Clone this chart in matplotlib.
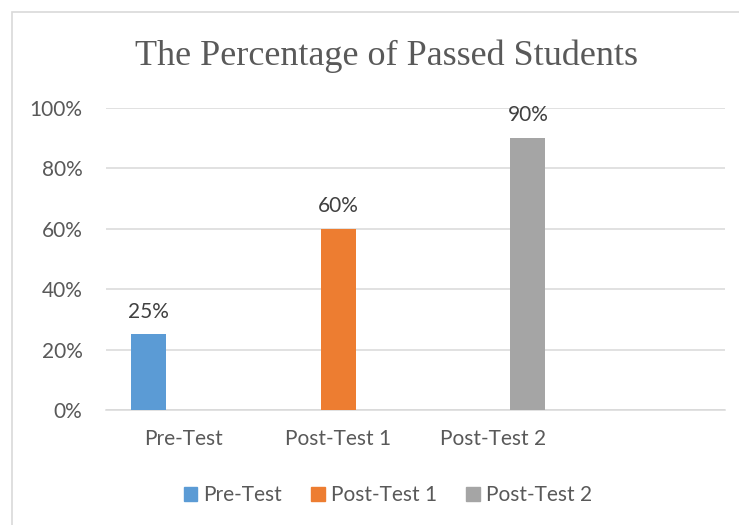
import matplotlib.pyplot as plt
import numpy as np
from matplotlib.patches import Rectangle, Patch

# categories on the x axis (4th slot is empty, as in the original sheet)
categories = ['Pre-Test', 'Post-Test 1', 'Post-Test 2', '']
series_names = ['Pre-Test', 'Post-Test 1', 'Post-Test 2']
pre_test = [25, 0, 0, 0]
post_test1 = [0, 60, 0, 0]
post_test2 = [0, 0, 90, 0]
colors = ['#5B9BD5', '#ED7D31', '#A5A5A5']
yticks = [0, 20, 40, 60, 80, 100]

text_gray = '#595959'
grid_gray = '#D9D9D9'
font = ['Lato', 'DejaVu Sans']

fig = plt.figure(figsize=(7.39, 5.25), dpi=100)
ax = fig.add_axes([106/739, 115/525, 619/739, 302.3/525])

# outer chart border
fig.patches.append(Rectangle((12/739, -0.1), 1.2, (525-12)/525 + 0.1,
                             transform=fig.transFigure, fill=False,
                             edgecolor=grid_gray, linewidth=1.2))

x = np.arange(len(categories))
w = 35/155
all_series = [pre_test, post_test1, post_test2]
for i, vals in enumerate(all_series):
    bars = ax.bar(x + (i-1)*w, vals, width=w, color=colors[i], zorder=3)
    labels = ['%d%%' % v if v > 0 else '' for v in vals]
    ax.bar_label(bars, labels=labels, padding=9, fontsize=15,
                 color='#404040', family=font)

ax.set_xlim(-0.5, 3.5)
ax.set_ylim(0, 100)
ax.set_yticks(yticks)
ax.set_yticklabels(['%d%%' % t for t in yticks])
ax.set_xticks(x)
ax.set_xticklabels(categories)
for lab in ax.get_xticklabels() + ax.get_yticklabels():
    lab.set_family(font)
    lab.set_fontsize(15)
    lab.set_color(text_gray)
ax.tick_params(axis='y', length=0, pad=17)
ax.tick_params(axis='x', length=0, pad=14)

ax.grid(axis='y', color=grid_gray, linewidth=1.1, zorder=0)
for s in ['top', 'right', 'left']:
    ax.spines[s].set_visible(False)
ax.spines['bottom'].set_color(grid_gray)
ax.spines['bottom'].set_linewidth(1.1)

fig.text(386/739, 1 - 56/525, 'The Percentage of Passed Students',
         ha='center', va='center', fontsize=26, color=text_gray,
         family='Liberation Serif')

handles = [Patch(color=c) for c in colors]
fig.legend(handles, series_names, loc='center', bbox_to_anchor=(388/739, 1 - 495/525),
           ncol=3, frameon=False, prop={'family': 'Lato', 'size': 15},
           labelcolor=text_gray, handlelength=0.65, handleheight=0.65,
           handletextpad=0.3, columnspacing=1.4)

fig.savefig('out.png', dpi=100)
